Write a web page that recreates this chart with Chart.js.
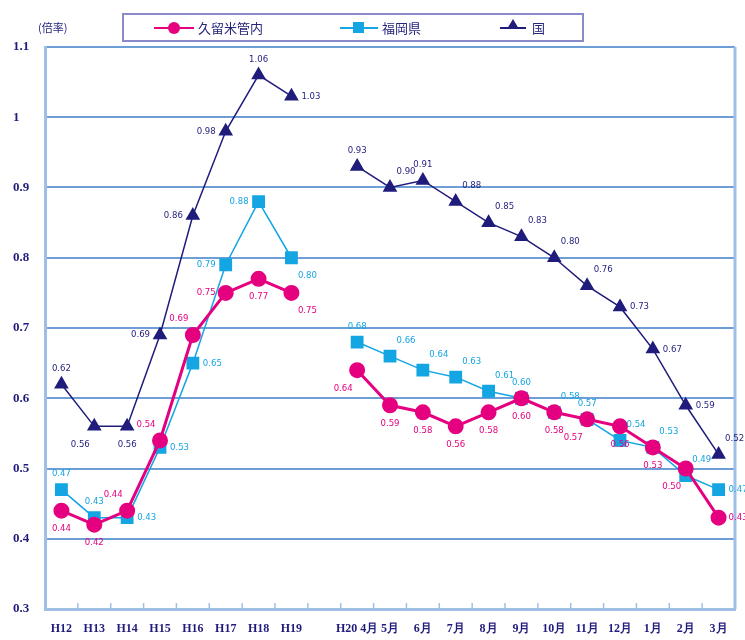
<!DOCTYPE html>
<html>
<head>
<meta charset="utf-8">
<script src="https://cdn.jsdelivr.net/npm/chart.js@4.4.1/dist/chart.umd.min.js"></script>
<style>
  html, body { margin: 0; padding: 0; background: #fff; }
  #wrap { position: relative; width: 745px; height: 640px; }
  #legend {
    position: absolute; left: 122px; top: 13px; width: 458px; height: 25px;
    border: 2px solid #8a8ac8; background: #fff; box-sizing: content-box;
    font-family: "Noto Sans CJK JP", sans-serif; font-size: 13px; color: #26267a;
  }
  .item { position: absolute; top: 3px; height: 20px; line-height: 20px; }
  .mk { position: absolute; top: 9px; height: 2px; }
  .mk i { position: absolute; display: block; }
  #unit {
    position: absolute; left: 38px; top: 19px;
    font-family: "Noto Sans CJK JP", sans-serif; font-size: 11px; color: #26267a;
  }
</style>
</head>
<body>
<div id="wrap">
  <canvas id="myChart" width="745" height="640"></canvas>
  <div id="unit">(倍率)</div>
  <div id="legend">
    <div class="item" style="left:30px">
      <span class="mk" style="left:0;width:40px;background:#e5007f"><i style="left:14px;top:-5px;width:12px;height:12px;border-radius:6px;background:#e5007f"></i></span>
      <span style="margin-left:44px">久留米管内</span>
    </div>
    <div class="item" style="left:216px">
      <span class="mk" style="left:0;width:38px;background:#14a5e3"><i style="left:13px;top:-5px;width:11px;height:11px;background:#14a5e3"></i></span>
      <span style="margin-left:42px">福岡県</span>
    </div>
    <div class="item" style="left:376px">
      <span class="mk" style="left:0;width:26px;background:#201c7c"><i style="left:7px;top:-8px;width:0;height:0;border-left:6px solid transparent;border-right:6px solid transparent;border-bottom:10px solid #201c7c"></i></span>
      <span style="margin-left:32px">国</span>
    </div>
  </div>
</div>
<script>
const categories = ['H12', 'H13', 'H14', 'H15', 'H16', 'H17', 'H18', 'H19', '',
  'H20 4月', '5月', '6月', '7月', '8月', '9月', '10月', '11月', '12月', '1月', '2月', '3月'];

const kurume = [0.44, 0.42, 0.44, 0.54, 0.69, 0.75, 0.77, 0.75, null,
  0.64, 0.59, 0.58, 0.56, 0.58, 0.60, 0.58, 0.57, 0.56, 0.53, 0.50, 0.43];
const fukuoka = [0.47, 0.43, 0.43, 0.53, 0.65, 0.79, 0.88, 0.80, null,
  0.68, 0.66, 0.64, 0.63, 0.61, 0.60, 0.58, 0.57, 0.54, 0.53, 0.49, 0.47];
const kuni = [0.62, 0.56, 0.56, 0.69, 0.86, 0.98, 1.06, 1.03, null,
  0.93, 0.90, 0.91, 0.88, 0.85, 0.83, 0.80, 0.76, 0.73, 0.67, 0.59, 0.52];

const yTicks = [0.3, 0.4, 0.5, 0.6, 0.7, 0.8, 0.9, 1, 1.1];

// where each value label sits relative to its point
const labelPos = [
  ['b', 'b', 'al', 'al', 'al', 'l', 'b', 'br', '', 'bl', 'b', 'b', 'b', 'b', 'b', 'b', 'bl', 'b', 'b', 'bl', 'r'],
  ['a', 'a', 'r', 'r', 'r', 'l', 'l', 'br', '', 'a', 'ar', 'ar', 'ar', 'ar', 'a', 'ar', 'a', 'ar', 'ar', 'ar', 'r'],
  ['a', 'bl', 'b', 'l', 'l', 'l', 'a', 'r', '', 'a', 'ar', 'a', 'ar', 'ar', 'ar', 'ar', 'ar', 'r', 'r', 'r', 'ar']
];

const NAVY = '#201c7c', PINK = '#e5007f', CYAN = '#14a5e3';
const GRID = '#6d9fd6', FRAME = '#9fbfe6';

const valueLabels = {
  id: 'valueLabels',
  afterDatasetsDraw(chart) {
    const ctx = chart.ctx;
    ctx.save();
    ctx.font = '9.5px "DejaVu Sans Condensed", "Liberation Sans Narrow", sans-serif';
    ctx.textBaseline = 'middle';
    chart.data.datasets.forEach((ds, di) => {
      const meta = chart.getDatasetMeta(di);
      ctx.fillStyle = ds.borderColor;
      meta.data.forEach((pt, i) => {
        const v = ds.data[i];
        if (v === null) return;
        const p = labelPos[di][i];
        let dx = 0, dy = 0, align = 'center';
        if (p.includes('a')) dy = -16;
        if (p.includes('b')) dy = 18;
        if (p === 'l') { dx = -10; align = 'right'; }
        else if (p === 'r') { dx = 10; align = 'left'; }
        else if (p.includes('l')) { dx = -14; }
        else if (p.includes('r')) { dx = 16; }
        if (p === 'l' || p === 'r') dy = 0;
        ctx.textAlign = align;
        ctx.fillText(v.toFixed(2), pt.x + dx, pt.y + dy);
      });
    });
    ctx.restore();
  }
};

const frame = {
  id: 'frame',
  beforeDatasetsDraw(chart) {
    const { ctx, chartArea: a, scales } = chart;
    ctx.save();
    ctx.strokeStyle = FRAME;
    ctx.lineWidth = 3;
    ctx.beginPath();
    ctx.moveTo(a.right, a.top);
    ctx.lineTo(a.right, a.bottom);
    ctx.stroke();
    // small inner ticks between categories
    ctx.lineWidth = 1.5;
    const x = scales.x;
    for (let i = 0; i < categories.length - 1; i++) {
      const px = (x.getPixelForValue(i) + x.getPixelForValue(i + 1)) / 2;
      ctx.beginPath();
      ctx.moveTo(px, a.bottom);
      ctx.lineTo(px, a.bottom - 6);
      ctx.stroke();
    }
    ctx.restore();
  }
};

new Chart(document.getElementById('myChart').getContext('2d'), {
  type: 'line',
  data: {
    labels: categories,
    datasets: [
      { label: '久留米管内', data: kurume, borderColor: PINK, backgroundColor: PINK,
        borderWidth: 3, pointStyle: 'circle', pointRadius: 6.5 },
      { label: '福岡県', data: fukuoka, borderColor: CYAN, backgroundColor: CYAN,
        borderWidth: 1.5, pointStyle: 'rect', pointRadius: 8 },
      { label: '国', data: kuni, borderColor: NAVY, backgroundColor: NAVY,
        borderWidth: 1.5, pointStyle: 'triangle', pointRadius: 7 }
    ]
  },
  options: {
    responsive: false,
    animation: false,
    spanGaps: false,
    layout: { padding: { left: 13, top: 47, right: 10, bottom: 0 } },
    plugins: { legend: { display: false }, tooltip: { enabled: false } },
    scales: {
      x: {
        offset: true,
        grid: { display: false, drawTicks: false },
        border: { color: FRAME, width: 3 },
        ticks: {
          padding: 13, maxRotation: 0, autoSkip: false, color: NAVY,
          font: { family: '"Liberation Serif", serif', size: 12, weight: 'bold' }
        },
        afterFit(s) { s.height = 31; }
      },
      y: {
        min: 0.3, max: 1.1,
        afterBuildTicks(s) { s.ticks = yTicks.map(v => ({ value: v })); },
        grid: { color: GRID, lineWidth: 2, drawTicks: false },
        border: { color: FRAME, width: 3 },
        ticks: {
          crossAlign: 'far', color: NAVY,
          font: { family: '"Liberation Serif", serif', size: 13, weight: 'bold' },
          callback: v => String(v)
        },
        afterFit(s) { s.width = 32; }
      }
    }
  },
  plugins: [frame, valueLabels]
});
</script>
</body>
</html>
